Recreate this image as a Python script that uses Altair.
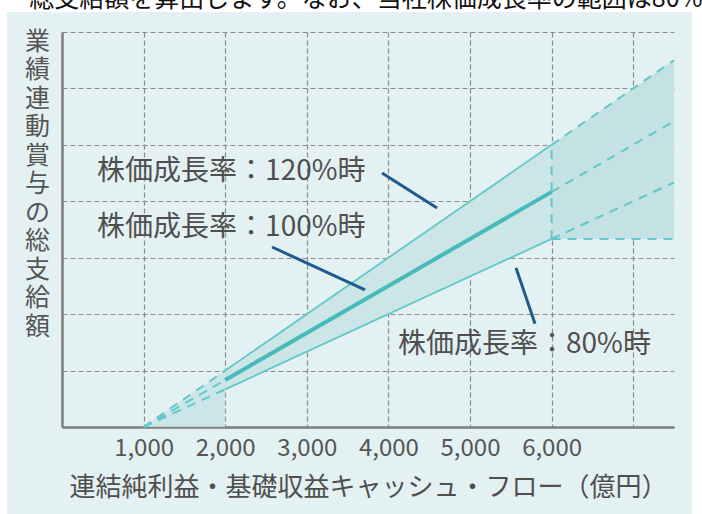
import altair as alt
import pandas as pd

FONT = "Noto Sans CJK JP"

# breakpoints on the x axis (億円)
x_pts = [1000, 2000, 6000, 7500]
# total bonus (grid units) for each share-price growth rate
upper_120 = [0.0, 1.0, 5.0, 6.5]
mid_100 = [0.0, 0.833, 4.167, 5.417]
lower_80 = [0.0, 0.667, 3.333, 4.333]
cap_floor = 3.333

x_ticks = [1000, 2000, 3000, 4000, 5000, 6000, 7000]
y_ticks = [1, 2, 3, 4, 5, 6, 7]

labels = ["株価成長率：120%時", "株価成長率：100%時", "株価成長率：80%時"]
label_x = [430, 430, 4118]
label_y = [4.52, 3.53, 1.45]
leader_x1 = [3922, 2574, 5564]
leader_y1 = [4.50, 3.19, 2.82]
leader_x2 = [4596, 3713, 5797]
leader_y2 = [3.88, 2.43, 1.83]

y_title = list("業績連動賞与の総支給額")
x_title = "連結純利益・基礎収益キャッシュ・フロー（億円）"
top_text = "総支給額を算出します。なお、当社株価成長率の範囲は80%"

BG = "#e4f1f3"
TEAL = "#62c8c8"
TEAL_MID = "#48baba"
FILL_BAND = "#cce5e7"
FILL_BEYOND = "#c4e2e4"
FILL_TRI = "#c4e4e6"
GRID = "#8a8a8a"
AXIS = "#7d7d7d"
TEXT = "#4f4f4f"
LEADER = "#1f5b8c"

xs = alt.Scale(domain=[0, 7500], nice=False, zero=False)
ys = alt.Scale(domain=[0, 7], nice=False, zero=False)

x_axis = alt.Axis(
    values=x_ticks, grid=True, gridColor=GRID, gridDash=[5, 3], gridWidth=1.2,
    domainColor=AXIS, domainWidth=2.5, ticks=False,
    labelExpr="datum.value <= 6000 ? format(datum.value, ',') : ''",
    labelFont=FONT, labelFontSize=24, labelColor="#555555", labelPadding=9,
    labelFlush=False, labelOverlap=False,
    title=x_title, titleFont=FONT, titleFontSize=26, titleColor=TEXT,
    titleFontWeight="normal", titleY=60, titleBaseline="middle",
)
y_axis = alt.Axis(
    values=y_ticks, grid=True, gridColor=GRID, gridDash=[5, 3], gridWidth=1.2,
    domainColor=AXIS, domainWidth=2.5, ticks=False, labels=False,
    title=y_title, titleAngle=0, titleX=-25, titleY=-3, titleAlign="center",
    titleBaseline="top", titleLineHeight=28.5, titleFont=FONT, titleFontSize=25,
    titleColor="#555555", titleFontWeight="normal",
)

tri = pd.DataFrame({"x": x_pts[0:2], "lo": [0.0, 0.0], "hi": upper_120[0:2]})
band = pd.DataFrame({"x": x_pts[1:3], "lo": lower_80[1:3], "hi": upper_120[1:3]})
beyond = pd.DataFrame({"x": x_pts[2:4], "lo": [cap_floor, cap_floor], "hi": upper_120[2:4]})

band_layer = alt.Chart(band).mark_area(color=FILL_BAND, opacity=1).encode(
    x=alt.X("x:Q", scale=xs, axis=x_axis),
    y=alt.Y("lo:Q", scale=ys, axis=y_axis),
    y2="hi:Q",
)
tri_layer = alt.Chart(tri).mark_area(color=FILL_TRI, opacity=0.8).encode(
    x=alt.X("x:Q", scale=xs), y=alt.Y("lo:Q", scale=ys), y2="hi:Q")
beyond_layer = alt.Chart(beyond).mark_area(color=FILL_BEYOND, opacity=1).encode(
    x=alt.X("x:Q", scale=xs), y=alt.Y("lo:Q", scale=ys), y2="hi:Q")

series = {"120": upper_120, "100": mid_100, "80": lower_80}
solid_rows, dash_rows = [], []
for name, vals in series.items():
    solid_rows += [{"s": name, "x": x_pts[i], "y": vals[i]} for i in (1, 2)]
    dash_rows += [{"s": name + "a", "x": x_pts[i], "y": vals[i]} for i in (0, 1)]
    dash_rows += [{"s": name + "b", "x": x_pts[i], "y": vals[i]} for i in (2, 3)]
dash_rows += [{"s": "floor", "x": x_pts[2], "y": cap_floor}, {"s": "floor", "x": x_pts[3], "y": cap_floor}]
dash_rows += [{"s": "edge", "x": x_pts[2], "y": cap_floor}, {"s": "edge", "x": x_pts[2], "y": upper_120[2]}]
solid_df = pd.DataFrame(solid_rows)
dash_df = pd.DataFrame(dash_rows)

dash_layer = alt.Chart(dash_df).mark_line(color=TEAL, strokeWidth=2, strokeDash=[9, 7]).encode(
    x=alt.X("x:Q", scale=xs), y=alt.Y("y:Q", scale=ys), detail="s:N")
edge_layer = alt.Chart(solid_df[solid_df.s != "100"]).mark_line(color=TEAL, strokeWidth=1.8).encode(
    x=alt.X("x:Q", scale=xs), y=alt.Y("y:Q", scale=ys), detail="s:N")
mid_layer = alt.Chart(solid_df[solid_df.s == "100"]).mark_line(color=TEAL_MID, strokeWidth=4).encode(
    x=alt.X("x:Q", scale=xs), y=alt.Y("y:Q", scale=ys))

ann = pd.DataFrame({"t": labels, "x": label_x, "y": label_y,
                    "x1": leader_x1, "y1": leader_y1, "x2": leader_x2, "y2": leader_y2})
leader_layer = alt.Chart(ann).mark_rule(color=LEADER, strokeWidth=3).encode(
    x=alt.X("x1:Q", scale=xs), y=alt.Y("y1:Q", scale=ys), x2="x2:Q", y2="y2:Q")
text_layer = alt.Chart(ann).mark_text(font=FONT, fontSize=28, color=TEXT, align="left",
                                      baseline="middle").encode(
    x=alt.X("x:Q", scale=xs), y=alt.Y("y:Q", scale=ys), text="t:N")

one = pd.DataFrame({"a": [0]})
white_top = alt.Chart(one).mark_rect(color="white").encode(
    x=alt.value(-62), x2=alt.value(640), y=alt.value(-32), y2=alt.value(-20))
white_left = alt.Chart(one).mark_rect(color="white").encode(
    x=alt.value(-62), x2=alt.value(-55), y=alt.value(-32), y2=alt.value(482))
white_right = alt.Chart(one).mark_rect(color="white").encode(
    x=alt.value(630), x2=alt.value(640), y=alt.value(-32), y2=alt.value(482))
heading = alt.Chart(one).mark_text(text=top_text, font=FONT, fontSize=25, color="#111111",
                                   align="center", baseline="alphabetic").encode(
    x=alt.value(304), y=alt.value(-25))

chart = alt.layer(
    band_layer, tri_layer, beyond_layer, dash_layer, edge_layer, mid_layer,
    leader_layer, text_layer, white_top, white_left, white_right, heading,
).properties(
    width=612, height=395,
    padding={"left": 62, "top": 32, "right": 28, "bottom": 87},
    autosize=alt.AutoSizeParams(type="none"),
    background=BG,
).configure_view(strokeWidth=0)

chart.save("out.html", embed_options={"renderer": "svg", "actions": False})
